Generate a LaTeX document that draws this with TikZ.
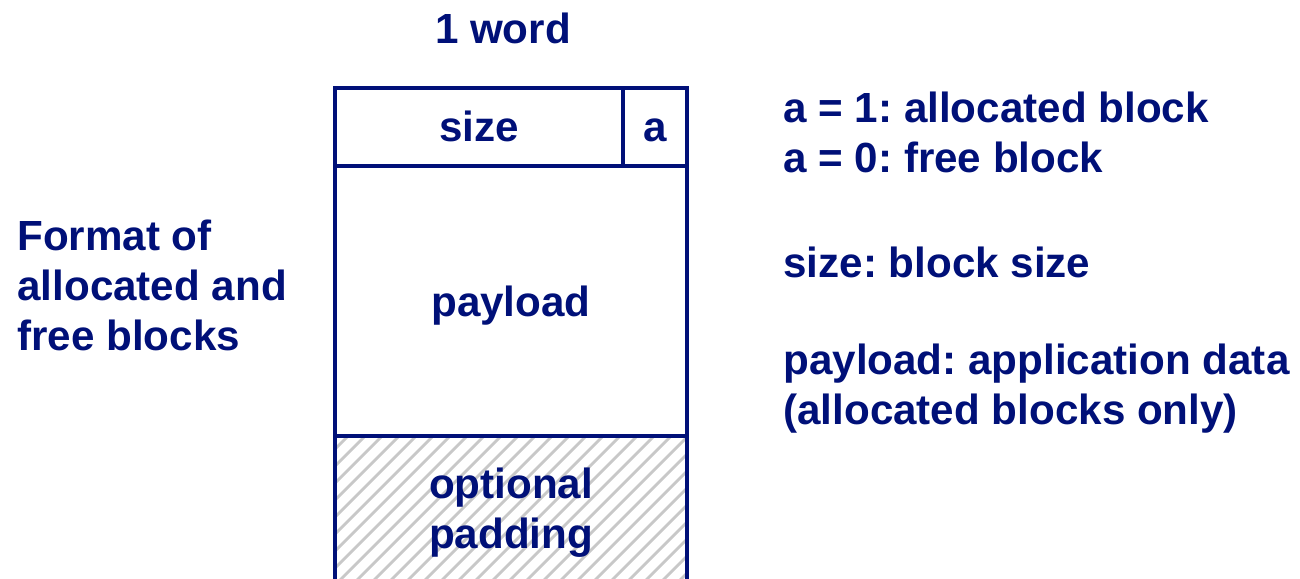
\documentclass[tikz,border=0pt]{standalone}
\usepackage{fontspec}
\setmainfont{Liberation Sans}
\definecolor{navy}{RGB}{0,16,120}
\definecolor{hatch}{RGB}{200,200,200}
\begin{document}
\frenchspacing
\begin{tikzpicture}[x=0.02cm,y=-0.02cm,
  every node/.style={font=\fontsize{24}{28.5}\selectfont\bfseries\frenchspacing, text=navy},
  cell/.style={draw=navy, line width=2.3pt, inner sep=0pt, outer sep=0pt, rectangle},
  lbl/.style={inner sep=0pt, anchor=west, align=left}]
\useasboundingbox (0,0) rectangle (1300,578);
% hatched padding
\begin{scope}
  \clip (335,436) rectangle (687,590);
  \foreach \x in {150,167,...,720}
    \draw[hatch, line width=1.6pt] (\x,600) -- ++(170,-170);
\end{scope}
\node[inner sep=0pt, outer sep=0pt, minimum width=7.04cm, minimum height=3.08cm, align=center] (pad) at (511,513) {optional\\padding};
\draw[navy, line width=2.3pt] (pad.south west) -- (pad.north west) -- (pad.north east) -- (pad.south east);
% cells
\node[cell, minimum width=7.04cm, minimum height=5.4cm, text depth=0pt] (payload) at (511,301) {payload};
\node[cell, minimum width=5.76cm, minimum height=1.56cm, text height=17pt, text depth=0pt] (size) at (479,127) {size};
\node[cell, minimum width=1.28cm, minimum height=1.56cm, text height=17pt, text depth=0pt] (a) at (655,127) {a};
\node (word) at (503,28) {1 word};
% left text
\node[lbl] (fmt) at (17,285) {Format of\\allocated and\\free blocks};
% right text
\node[lbl] (a1) at (783,132) {a = 1: allocated block\\a = 0: free block};
\node[lbl] (sz) at (783,262) {size: block size};
\node[lbl] (pl) at (783,389) {payload: application data\\(allocated blocks only)};
\end{tikzpicture}
\end{document}
